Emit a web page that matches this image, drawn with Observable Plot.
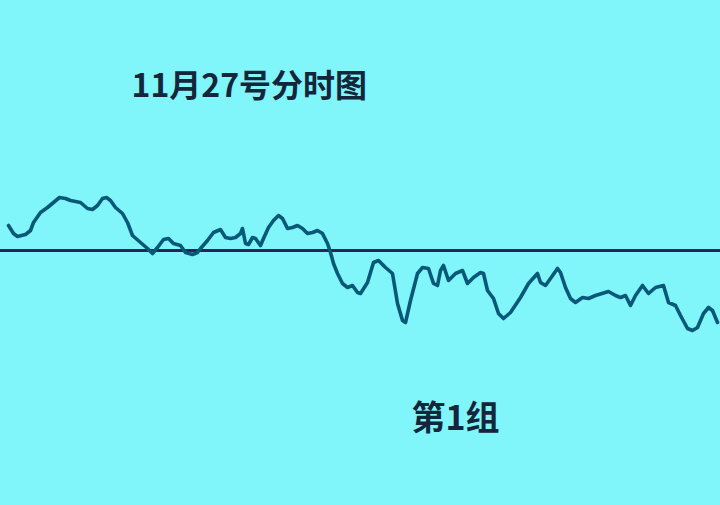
<!DOCTYPE html>
<html>
<head>
<meta charset="utf-8">
<script src="https://cdn.jsdelivr.net/npm/d3@7"></script>
<script src="https://cdn.jsdelivr.net/npm/@observablehq/plot@0.6"></script>
<style>
  html, body { margin: 0; padding: 0; background: #80f5fa; }
  #chart { width: 720px; height: 505px; }
</style>
</head>
<body>
<div id="chart"></div>
<script>
// Intraday (分时) trace: t = time index, v = change vs. previous close
const titleText = "11月27号分时图";
const groupText = "第1组";
const baseline = [0];
const t = [8,13,17,25,30,33,40,47,53,59,65,70,80,87,92,97,102,106,110,115,122,127,132,140,147,152,157,163,168,173,180,185,192,197,200,207,213,220,225,230,235,240,242,245,248,252,255,260,263,268,273,278,282,287,292,297,302,307,312,317,322,327,330,333,337,342,347,352,357,360,367,373,378,385,392,397,402,405,410,417,422,428,433,437,440,443,448,455,462,467,473,480,483,487,493,498,503,510,520,528,537,540,545,550,557,560,565,570,575,582,588,595,608,615,620,625,630,635,642,648,655,663,668,675,680,687,692,697,703,708,712,717];
const v = [25,17,14,16,20,28,38,43,48,53,52,50,48,42,41,45,52,53,50,43,37,28,15,8,2,-3,3,11,12,7,5,-2,-4,-2,2,10,18,21,13,12,13,17,22,7,6,13,12,5,12,23,30,35,32,22,23,25,22,17,18,20,17,7,-2,-13,-23,-33,-37,-35,-42,-43,-32,-12,-10,-17,-23,-53,-70,-72,-50,-23,-17,-18,-33,-35,-20,-15,-30,-23,-20,-33,-27,-22,-23,-40,-48,-63,-68,-62,-47,-33,-23,-32,-35,-28,-18,-22,-37,-48,-52,-47,-48,-45,-41,-45,-47,-45,-55,-45,-35,-43,-37,-35,-52,-55,-65,-78,-80,-77,-63,-57,-60,-72];

const data = t.map((x, i) => ({t: x, v: v[i]}));
const font = "'Noto Sans CJK SC', 'Noto Sans', sans-serif";

const chart = Plot.plot({
  width: 720,
  height: 505,
  margin: 0,
  x: {domain: [0, 720], axis: null},
  y: {domain: [-255, 250], axis: null},
  style: {background: "#80f5fa", fontFamily: font},
  marks: [
    Plot.ruleY(baseline, {stroke: "#2a2354", strokeWidth: 3}),
    Plot.line(data, {x: "t", y: "v", stroke: "#0a5878", strokeWidth: 3.6, strokeLinejoin: "round"}),
    Plot.text([titleText], {text: d => d, frameAnchor: "top-left", dx: 131, dy: 96, lineAnchor: "bottom", textAnchor: "start", fontSize: 32, fontWeight: "bold", fill: "#13263a"}),
    Plot.text([groupText], {text: d => d, frameAnchor: "top-left", dx: 411, dy: 429, lineAnchor: "bottom", textAnchor: "start", fontSize: 34, fontWeight: "bold", fill: "#13263a"})
  ]
});
document.getElementById("chart").appendChild(chart);
</script>
</body>
</html>
